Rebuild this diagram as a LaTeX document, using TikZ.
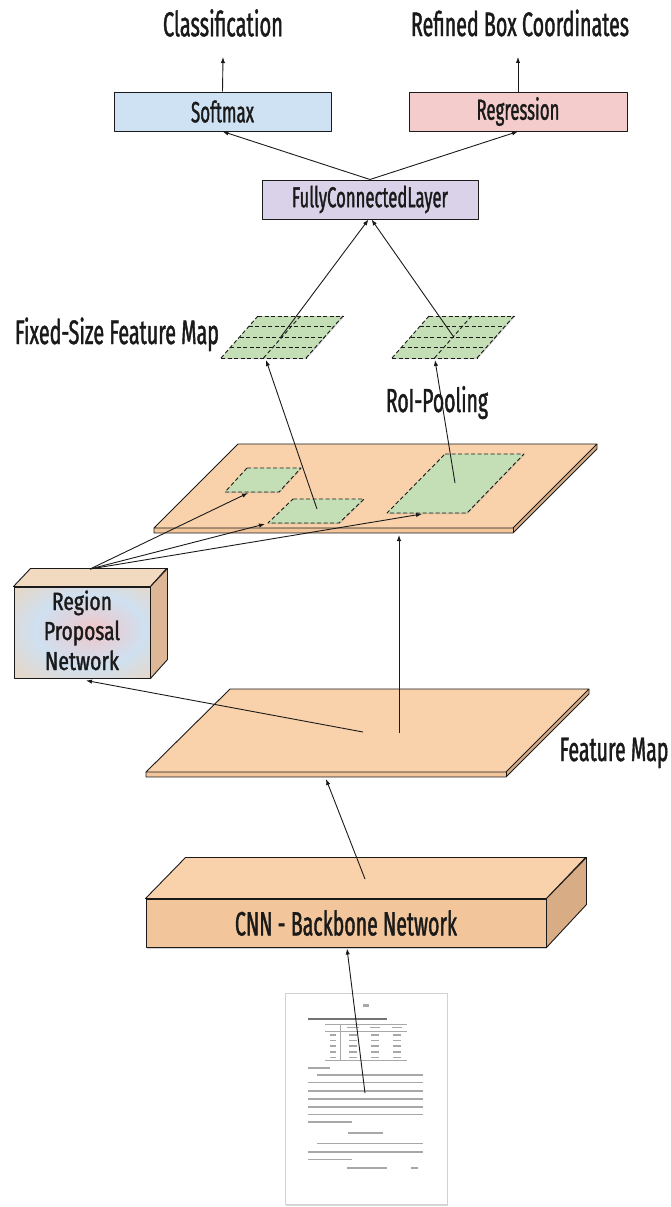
\documentclass[tikz,border=0pt]{standalone}
\usepackage{fontspec}
\setmainfont{Fira Sans}[FakeStretch=0.58, FakeBold=1.2]
\usepackage{graphicx}
\usetikzlibrary{arrows.meta,shadows}

\definecolor{ink}{HTML}{1A1A1A}
\definecolor{softblue}{HTML}{CFE2F3}
\definecolor{softred}{HTML}{F4CCCC}
\definecolor{softlilac}{HTML}{D9D2E9}
\definecolor{peach}{HTML}{F9D2AB}
\definecolor{peachfront}{HTML}{F2C59B}
\definecolor{peachside}{HTML}{D8AC84}
\definecolor{roigreen}{HTML}{C4DFB5}
\definecolor{rpnpink}{HTML}{F2C4C6}
\definecolor{rpnblue}{HTML}{CFE0F0}
\definecolor{rpntan}{HTML}{F0D3B6}
\definecolor{paperink}{HTML}{A8A8A8}

% scale a label to a given width (and optionally height) in pt
\newcommand{\fitto}[2]{\resizebox{#1pt}{!}{#2}}
\newcommand{\fitwh}[3]{\resizebox{#1pt}{#2pt}{#3}}

\pgfdeclareradialshading{rpnglow}{\pgfpoint{5bp}{2bp}}{%
  color(0bp)=(rpnpink); color(7bp)=(rpnpink!60!rpnblue); color(20bp)=(rpnblue);
  color(32bp)=(rpnblue!45!rpntan); color(43bp)=(rpntan); color(50bp)=(rpntan)}

% a 2x4 pooled feature grid, given by its top-left corner
\newcommand{\roigrid}[1]{%
  \begin{scope}[shift={(#1)}]
    \fill[roigreen, drop shadow={shadow xshift=0.5pt, shadow yshift=-1.2pt, opacity=0.4}]
      (0,0) -- (85,0) -- (48,42) -- (-37,42) -- cycle;
    \foreach \k in {0,...,4} {
      \draw[gridline] ({-37*\k/4},{10.5*\k}) -- ++(85,0);
    }
    \draw[gridline] (0,0) -- (-37,42);
    \draw[gridline] (42.5,0) -- (5.5,42);
    \draw[gridline] (85,0) -- (48,42);
  \end{scope}}

\begin{document}
\begin{tikzpicture}[x=1pt, y=-1pt, line join=round,
  box/.style={draw=ink, line width=1pt, minimum width=217pt, minimum height=39pt,
    inner sep=0pt, text=ink,
    drop shadow={shadow xshift=0.6pt, shadow yshift=-1.4pt, opacity=0.4}},
  lbl/.style={text=ink, inner sep=0pt},
  conn/.style={draw=ink, line width=0.9pt, -{Latex[length=6pt,width=4.4pt]}},
  gridline/.style={draw=ink, line width=0.9pt, dash pattern=on 4pt off 2.5pt},
  region/.style={fill=roigreen, draw=ink, line width=0.9pt, dash pattern=on 4pt off 2.5pt,
    drop shadow={shadow xshift=0.5pt, shadow yshift=-1pt, opacity=0.3}},
  plate/.style={fill=peach, draw=ink, line width=0.9pt},
  edge3d/.style={draw=ink, line width=0.9pt}]

\useasboundingbox (0,0) rectangle (670,1207);

% ---------- output heads ----------
\node[lbl] (cls) at (223,23) {\fitto{120}{Classification}};
\node[lbl] (rbc) at (520,23) {\fitto{218}{Refined Box Coordinates}};
\coordinate (clsTip) at (223,57);
\coordinate (rbcTip) at (518,57);

\node[box, fill=softblue] (softmax) at (222.5,111.5) {\fitto{63}{Softmax}};
\node[box, fill=softred, minimum width=218pt] (regression) at (518,111.5) {\fitto{83}{Regression}};
\node[box, fill=softlilac, minimum width=216pt] (fc) at (370,199.5) {\fitto{156}{FullyConnectedLayer}};

% ---------- pooled feature maps ----------
\roigrid{258,316}
\roigrid{429,316}
\node[lbl, anchor=base] (fixlbl) at (117,344) {\fitto{204}{Fixed-Size Feature Map}};
\node[lbl, anchor=base] (roilbl) at (437,412) {\fitto{102}{RoI-Pooling}};

% ---------- upper feature map with proposals ----------
\fill[peachside] (597,444) -- (597,449) -- (513,533) -- (513,528) -- cycle;
\fill[peachfront] (154,528) rectangle (513,533);
\draw[plate] (238,444) -- (597,444) -- (513,528) -- (154,528) -- cycle;
\draw[edge3d] (154,528) -- (154,533) -- (513,533) -- (597,449) -- (597,444);
\draw[edge3d] (513,528) -- (513,533);

\draw[region] (247,468) -- (301,468) -- (279,492) -- (225,492) -- cycle;
\draw[region] (293,499) -- (364,499) -- (339,523) -- (268,523) -- cycle;
\draw[region] (445,454) -- (524,454) -- (467,513) -- (387,513) -- cycle;

% ---------- region proposal network ----------
\node[draw=ink, line width=1pt, shading=rpnglow, minimum width=136pt, minimum height=91pt,
  inner sep=0pt] (rpn) at (82,632.5) {};
\draw[edge3d, fill=rpntan!85!white] (rpn.north west) -- ++(17,-18) -- ++(136,0) -- (rpn.north east) -- cycle;
\draw[edge3d, fill=peachside!85!white] (rpn.north east) -- ++(17,-18) -- ++(0,91) -- (rpn.south east) -- cycle;
\node[lbl, anchor=base] (rpnl1) at (82,610) {\fitwh{60}{19.5}{Region}};
\node[lbl, anchor=base] (rpnl2) at (82,640) {\fitwh{76}{19.5}{Proposal}};
\node[lbl, anchor=base] (rpnl3) at (82,670) {\fitwh{74}{19.5}{Network}};

% ---------- lower feature map ----------
\fill[peachside] (589,689) -- (589,694) -- (506,777) -- (506,772) -- cycle;
\fill[peachfront] (146,772) rectangle (506,777);
\draw[plate] (230,689) -- (589,689) -- (506,772) -- (146,772) -- cycle;
\draw[edge3d] (146,772) -- (146,777) -- (506,777) -- (589,694) -- (589,689);
\draw[edge3d] (506,772) -- (506,777);
\node[lbl, anchor=base] (fmlbl) at (614,761) {\fitto{109}{Feature Map}};

% ---------- backbone ----------
\node[draw=ink, line width=1pt, fill=peachfront, minimum width=400pt, minimum height=48pt,
  inner sep=0pt, text=ink,
  drop shadow={shadow xshift=0.8pt, shadow yshift=-1.6pt, opacity=0.35}]
  (cnn) at (346,923) {\fitto{222}{CNN - Backbone Network}};
\draw[edge3d, fill=peach] (cnn.north west) -- ++(40,-41) -- ++(400,0) -- (cnn.north east) -- cycle;
\draw[edge3d, fill=peachside] (cnn.north east) -- ++(40,-41) -- ++(0,47) -- (cnn.south east) -- cycle;

% ---------- input document ----------
\node[draw=black!18, line width=0.4pt, fill=white, minimum width=162pt, minimum height=211pt,
  drop shadow={shadow xshift=1pt, shadow yshift=-1.8pt, opacity=0.3}] (doc) at (366,1098.5) {};
\begin{scope}[paperink]
  \fill (363,1004) rectangle (369,1006.5);
  \fill[black!55] (308,1018) rectangle (387,1020.3);
  \draw[line width=0.5pt] (325,1024) -- (407,1024) (325,1031) -- (407,1031) (325,1060) -- (407,1060);
  \draw[line width=0.4pt] (340,1024) -- (340,1060);
  \foreach \c/\w in {353/12,375/10,397/10} { \fill ({\c-\w/2},1026.5) rectangle ({\c+\w/2},1028.3); }
  \foreach \r in {1034,1039.5,1045,1051,1056.5} {
    \fill (330,\r) rectangle (336,{\r+1.6});
    \foreach \c in {353,375,397} { \fill ({\c-4},\r) rectangle ({\c+4},{\r+1.6}); }
  }
  \fill (308,1067) rectangle (330,1068.8);
  \fill (317,1074) rectangle (423,1075.8);
  \foreach \r in {1081.5,1090,1098,1106,1113.5} { \fill (308,\r) rectangle (423,{\r+1.8}); }
  \fill (308,1121) rectangle (352,1122.8);
  \fill (348,1132) rectangle (383,1134.2);
  \fill (317,1142.5) rectangle (423,1144.3);
  \fill (308,1151) rectangle (423,1152.8);
  \fill (308,1158.5) rectangle (352,1160.3);
  \fill (347,1167) rectangle (387,1169);
  \fill (411,1167) rectangle (418,1169);
\end{scope}

% ---------- connectors ----------
\coordinate (gridL) at (280,338);
\coordinate (gridR) at (453,336);
\coordinate (gridLbot) at (266,360);
\coordinate (gridRbot) at (435,360);
\coordinate (roiB) at (317,509);
\coordinate (roiC) at (455,483);
\coordinate (rpnTop) at (90,569);
\coordinate (tipA) at (248,493);
\coordinate (tipB) at (265,524);
\coordinate (tipC) at (422,514);
\coordinate (fmLowMid) at (399,733);
\coordinate (fmUpBot) at (399,535);
\coordinate (fmLowRPN) at (363,732);
\coordinate (cnnTop) at (365,879);
\coordinate (fmLowBot) at (326,779);
\coordinate (docMid) at (365,1093);

\draw[conn] (softmax.north) -- (clsTip);
\draw[conn] (regression.north) -- (rbcTip);
\draw[conn] (fc.north) -- (softmax.south);
\draw[conn] (fc.north) -- (regression.south);
\draw[conn] (gridL) -- ([xshift=-1.5pt]fc.south);
\draw[conn] (gridR) -- ([xshift=1.5pt]fc.south);
\draw[conn] (roiB) -- (gridLbot);
\draw[conn] (roiC) -- (gridRbot);
\draw[conn] (rpnTop) -- (tipA);
\draw[conn] (rpnTop) -- (tipB);
\draw[conn] (rpnTop) -- (tipC);
\draw[conn] (fmLowMid) -- (fmUpBot);
\draw[conn] (fmLowRPN) -- ([xshift=4pt,yshift=-2pt]rpn.south);
\draw[conn] (cnnTop) -- (fmLowBot);
\draw[conn] (docMid) -- ([xshift=1pt,yshift=-1pt]cnn.south);

\end{tikzpicture}
\end{document}
